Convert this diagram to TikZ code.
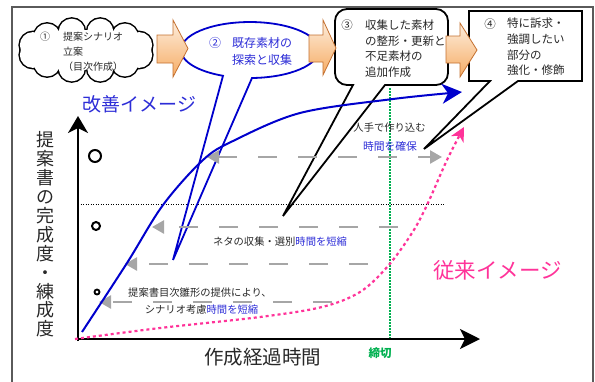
\documentclass[tikz,border=0pt]{standalone}
\usepackage{fontspec}
\setmainfont{Noto Sans CJK JP}
\usetikzlibrary{arrows.meta}
\definecolor{cblue}{RGB}{0,0,204}
\definecolor{tblue}{RGB}{45,45,215}
\definecolor{cpink}{RGB}{255,51,153}
\definecolor{cgreen}{RGB}{0,176,80}
\definecolor{cgray}{RGB}{166,166,166}
\definecolor{cframe}{RGB}{90,90,90}
\definecolor{otop}{RGB}{253,238,222}
\definecolor{obot}{RGB}{246,172,100}
\definecolor{oedge}{RGB}{196,112,48}
\definecolor{ctext}{RGB}{40,40,40}
\begin{document}
\begin{tikzpicture}[x=1pt,y=-1pt,
  blockarrow/.style={draw=oedge, line width=0.8pt, top color=otop, bottom color=obot},
  boxline/.style={draw=black, line width=1.8pt, line join=miter},
  garrow/.style={cgray, line width=2.5pt, dash pattern=on 19pt off 21pt},
  gtip/.style={-{Triangle[length=12pt,width=13pt]}},
  small/.style={font=\fontsize{10.3}{15}\selectfont, text=ctext, inner sep=0pt},
  boxtext/.style={font=\fontsize{11.5}{15.6}\selectfont, text=ctext, inner sep=0pt, align=left},
  ring/.style={circle, draw=black, inner sep=0pt}
]
\useasboundingbox (0,0) rectangle (595,381);
% outer frame
\draw[cframe, line width=1.5pt] (12,395) -- (12,7) -- (593,7) -- (593,395);

% guide lines
\draw[line width=0.9pt, dash pattern=on 1pt off 1.5pt] (78,204) coordinate (hl0) -- (445,204) coordinate (hl1);
\draw[cgreen, line width=1.5pt, dash pattern=on 1.5pt off 1.5pt] (390,88) coordinate (dl0) -- (390,339) coordinate (dl1);

% cloud 1 (union of puffs: thick outlines, then white fill on top)
\coordinate (cloud1) at (86,50);
\foreach \k in {0,...,11}
  \draw[line width=3pt] ({86+55*cos(30*\k+15)},{50+19*sin(30*\k+15)}) circle (13);
\foreach \k in {0,...,11}
  \fill[white] ({86+55*cos(30*\k+15)},{50+19*sin(30*\k+15)}) circle (13);
\fill[white] (cloud1) ellipse [x radius=56, y radius=20];
\node[small, font=\fontsize{10}{15}\selectfont] (num1) at (45,37) {①};
\node[small, font=\fontsize{10}{15}\selectfont, anchor=west, align=left] (txt1) at (63,52) {提案シナリオ\\立案\\（目次作成）};

% ellipse callout 2
\fill[white] (250,50) ellipse [x radius=69, y radius=28];
\draw[cblue, line width=1.8pt] (252,78) arc[start angle=88.3, end angle=-247, x radius=69, y radius=28]
   -- (173,260) coordinate (tip2) -- cycle;
\node[font=\fontsize{12}{16.5}\selectfont, text=tblue, inner sep=0pt] (num2) at (215,43) {②};
\node[font=\fontsize{12}{16.5}\selectfont, text=tblue, inner sep=0pt, anchor=west, align=left] (txt2) at (232,51.5) {既存素材の\\探索と収集};

% rounded box 3
\fill[white, rounded corners=12pt] (335,9) rectangle (448,85);
\draw[boxline] (353,85) -- (283,216) coordinate (tip3) -- (385,85)
   [rounded corners=12pt] -- (448,85) -- (448,9) -- (335,9) -- (335,85) [sharp corners] -- cycle;
\node[boxtext] (num3) at (347,25) {③};
\node[boxtext, anchor=west] (txt3) at (365,48.5) {収集した素材\\の整形・更新と\\不足素材の\\追加作成};

% box 4
\fill[white] (469,11) rectangle (582,81);
\draw[boxline] (490,81) -- (424,149) coordinate (tip4) -- (518,81) -- (582,81) -- (582,11) -- (469,11) -- (469,81) -- cycle;
\node[boxtext] (num4) at (490,24) {④};
\node[boxtext, anchor=west] (txt4) at (507,47) {特に訴求・\\強調したい\\部分の\\強化・修飾};

% block arrows
\draw[blockarrow] (157,35) -- (173,35) -- (173,20) -- (188,48.5) -- (173,77) -- (173,63) -- (157,63) -- cycle;
\draw[blockarrow] (309,35) -- (323,35) -- (323,20) -- (336,48) -- (323,75) -- (323,62) -- (309,62) -- cycle;
\draw[blockarrow] (446,36) -- (460,36) -- (460,23) -- (477,50) -- (460,77) -- (460,63) -- (446,63) -- cycle;

% gray dashed arrows
\coordinate (g1a) at (207,157); \coordinate (g1b) at (442,157);
\coordinate (g2a) at (398,227); \coordinate (g2b) at (152,227);
\coordinate (g3a) at (368,264); \coordinate (g3b) at (125,264);
\coordinate (g4a) at (332,302); \coordinate (g4b) at (99,302);
\draw[garrow, {Triangle[length=12pt,width=13pt]}-{Triangle[length=12pt,width=13pt]}] (g1a) -- (g1b);
\draw[garrow, gtip] (g2a) -- (g2b);
\draw[garrow, gtip] (g3a) -- (g3b);
\draw[garrow, gtip] (g4a) -- (g4b);

% circles
\node[ring, line width=2pt, minimum size=12pt] (o1) at (95,156) {};
\node[ring, line width=2pt, minimum size=8pt] (o2) at (96,226) {};
\node[ring, line width=1.8pt, minimum size=5pt] (o3) at (97,292) {};

% axes
\coordinate (org) at (78,339);
\draw[line width=2.2pt, -{Stealth[length=17pt,width=20pt,inset=5pt]}] (78,341) -- (78,116) coordinate (ytip);
\draw[line width=2.2pt, -{Stealth[length=20pt,width=20pt,inset=5pt]}] (76,339) -- (480,339) coordinate (xtip);

% curves
\draw[cpink, line width=2.2pt, dash pattern=on 3pt off 3pt, -{Stealth[length=14pt,width=14pt,inset=4pt]}]
  plot[smooth, tension=0.55] coordinates {(75,339) (160,328) (260,317) (322,307) (360,292) (388,266) (412,233) (427,205) (447,160) (464,127)};
\draw[cblue, line width=2pt, -{Stealth[length=20pt,width=20pt,inset=6pt]}]
  plot[smooth, tension=0.55] coordinates {(82,332) (127,263) (163,205) (203,160) (233,141) (300,113) (393,99) (462,92)};

% labels
\node[font=\fontsize{19}{19}\selectfont, text=tblue, inner sep=0pt] (kaizen) at (139.5,104) {改善イメージ};
\node[font=\fontsize{21.5}{22}\selectfont, text=cpink, inner sep=0pt] (jurai) at (497.5,270) {従来イメージ};
\node[font=\fontsize{18}{18.9}\selectfont, text=ctext, align=center, inner sep=0pt] (ylab) at (45,234.5)
  {提\\案\\書\\の\\完\\成\\度\\・\\練\\成\\度};
\node[font=\fontsize{19.5}{20}\selectfont, text=ctext, inner sep=0pt] (xlab) at (262.5,357) {作成経過時間};
\node[font=\fontsize{11.5}{12}\selectfont\bfseries, text=cgreen, inner sep=0pt] (shime) at (380,353) {締切};

\node[small] (hitode) at (389.5,128) {人手で作り込む};
\node[small, font=\fontsize{10.8}{15}\selectfont, text=tblue] (kakuho) at (390,146) {時間を確保};
\node[small] (neta) at (280,242) {ネタの収集・選別\textcolor{tblue}{時間を短縮}};
\node[small] (teian1) at (200,293) {提案書目次雛形の提供により、};
\node[small] (teian2) at (201.5,310) {シナリオ考慮\textcolor{tblue}{時間を短縮}};
\end{tikzpicture}
\end{document}
